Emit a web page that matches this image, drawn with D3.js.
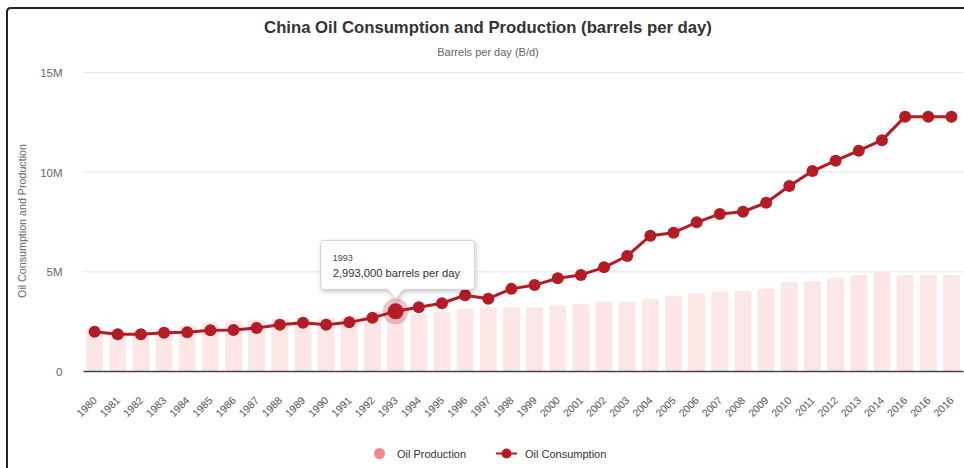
<!DOCTYPE html>
<html><head><meta charset="utf-8">
<script src="https://cdn.jsdelivr.net/npm/d3@7"></script>
<style>
body{margin:0;background:#fff}
svg{display:block;font-family:"Liberation Sans",Arial,Helvetica,sans-serif}
</style>
</head><body>
<svg id="c" width="964" height="468"></svg>
<script>
const categories = ["1980","1981","1982","1983","1984","1985","1986","1987","1988","1989",
  "1990","1991","1992","1993","1994","1995","1996","1997","1998","1999",
  "2000","2001","2002","2003","2004","2005","2006","2007","2008","2009",
  "2010","2011","2012","2013","2014","2016","2016","2016"];
const production = [2100000,2000000,2020000,2100000,2300000,2470000,2530000,2560000,2620000,2650000,
  2680000,2740000,2790000,2840000,2860000,2980000,3120000,3200000,3200000,3200000,
  3270000,3350000,3480000,3480000,3630000,3770000,3900000,3970000,4030000,4120000,
  4460000,4520000,4660000,4810000,4960000,4810000,4810000,4810000];
const consumption = [1970000,1840000,1840000,1920000,1940000,2040000,2060000,2160000,2320000,2420000,
  2320000,2440000,2670000,2993000,3200000,3400000,3800000,3630000,4120000,4310000,
  4650000,4820000,5200000,5770000,6790000,6940000,7460000,7880000,7990000,8440000,
  9280000,10030000,10550000,11050000,11580000,12760000,12760000,12760000];
const yTicks = [0, 5000000, 10000000, 15000000];
const seriesNames = ["Oil Production", "Oil Consumption"];
const titleText = "China Oil Consumption and Production (barrels per day)";
const subtitleText = "Barrels per day (B/d)";
const yTitle = "Oil Consumption and Production";
const hoverIndex = 13;

const red = "#b31b25";
const svg = d3.select("#c");

const defs = svg.append("defs");
const f = defs.append("filter").attr("id","sh").attr("x","-20%").attr("y","-30%").attr("width","140%").attr("height","170%");
f.append("feDropShadow").attr("dx",1).attr("dy",2).attr("stdDeviation",2).attr("flood-color","#000").attr("flood-opacity",0.22);

// frame
svg.append("path").attr("d","M7,470 V12 Q7,8 11,8 H970").attr("fill","none").attr("stroke","#222").attr("stroke-width",2);

const x = d3.scaleBand().domain(d3.range(categories.length)).range([83,963]).paddingInner(0.27).paddingOuter(0.135);
const y = d3.scaleLinear().domain([0,15000000]).range([371,72]);
const cx = i => x(i) + x.bandwidth()/2;

// titles
svg.append("text").attr("x",488).attr("y",33).attr("text-anchor","middle").attr("font-size",16.7).attr("font-weight","bold").attr("fill","#333").text(titleText);
svg.append("text").attr("x",488).attr("y",56).attr("text-anchor","middle").attr("font-size",11).attr("fill","#666").text(subtitleText);

// y axis
const yAxis = d3.axisLeft(y).tickValues(yTicks).tickSize(-(963-83)).tickFormat(d => d===0 ? "0" : (d/1e6)+"M");
const gy = svg.append("g").attr("transform","translate(83,0)").call(yAxis);
gy.select(".domain").remove();
gy.selectAll(".tick line").attr("stroke","#e6e6e6");
gy.selectAll(".tick text").attr("x",-20.5).attr("dy","0.75em").attr("font-size",11.5).attr("fill","#666").attr("font-family",null)
  .attr("transform","translate(0,-4)");

svg.append("text").attr("transform","translate(26,221) rotate(-90)").attr("text-anchor","middle").attr("font-size",10.7).attr("fill","#666").text(yTitle);

// bars
svg.append("g").selectAll("rect").data(production).join("rect")
  .attr("x",(d,i)=>x(i)).attr("width",x.bandwidth())
  .attr("y",d=>y(d)).attr("height",d=>y(0)-y(d)).attr("rx",2)
  .attr("fill","#f08080").attr("fill-opacity",0.2);

// x axis
const xAxis = d3.axisBottom(x).tickSize(0).tickFormat(i => categories[i]);
const gx = svg.append("g").attr("transform","translate(0,371)").call(xAxis);
gx.select(".domain").attr("stroke","#444").attr("stroke-width",1.3);
gx.selectAll(".tick text").attr("font-family",null).attr("font-size",10.5).attr("fill","#555")
  .attr("text-anchor","end").attr("dy",null).attr("y",null)
  .attr("transform","translate(3,30) rotate(-45)");

// line
const line = d3.line().x((d,i)=>cx(i)).y(d=>y(d));
svg.append("path").datum(consumption).attr("d",line).attr("fill","none").attr("stroke",red).attr("stroke-width",3).attr("stroke-linejoin","round");
svg.append("g").selectAll("circle").data(consumption).join("circle")
  .attr("cx",(d,i)=>cx(i)).attr("cy",d=>y(d)).attr("r",6).attr("fill",red);

// hover
const hx = cx(hoverIndex), hy = y(consumption[hoverIndex]);
svg.append("circle").attr("cx",hx).attr("cy",hy).attr("r",13).attr("fill",red).attr("fill-opacity",0.25);
svg.append("circle").attr("cx",hx).attr("cy",hy).attr("r",8).attr("fill",red);

// tooltip
const tw=154, th=49, tl = hx-75, tb = hy-22, tt = tb-th;
const tp = `M${tl+3},${tt} H${tl+tw-3} Q${tl+tw},${tt} ${tl+tw},${tt+3} V${tb-3} Q${tl+tw},${tb} ${tl+tw-3},${tb} H${hx+8} L${hx},${hy-12} L${hx-8},${tb} H${tl+3} Q${tl},${tb} ${tl},${tb-3} V${tt+3} Q${tl},${tt} ${tl+3},${tt} Z`;
svg.append("path").attr("d",tp).attr("fill","#fff").attr("stroke","#d0d0d0").attr("stroke-width",1).attr("filter","url(#sh)");
svg.append("text").attr("x",tl+12).attr("y",tt+21).attr("font-size",9).attr("fill","#444").text(categories[hoverIndex]);
svg.append("text").attr("x",tl+12).attr("y",tt+37).attr("font-size",11.2).attr("fill","#333")
  .text(d3.format(",")(consumption[hoverIndex])+" barrels per day");

// legend
const lg = svg.append("g");
lg.append("circle").attr("cx",379.5).attr("cy",453.5).attr("r",5.5).attr("fill","#f28b8b");
lg.append("text").attr("x",397).attr("y",457.5).attr("font-size",11).attr("fill","#333").text(seriesNames[0]);
lg.append("line").attr("x1",496).attr("x2",517).attr("y1",453.5).attr("y2",453.5).attr("stroke",red).attr("stroke-width",2);
lg.append("circle").attr("cx",506.5).attr("cy",453.5).attr("r",5).attr("fill",red);
lg.append("text").attr("x",525).attr("y",457.5).attr("font-size",11).attr("fill","#333").text(seriesNames[1]);
</script>
</body></html>
